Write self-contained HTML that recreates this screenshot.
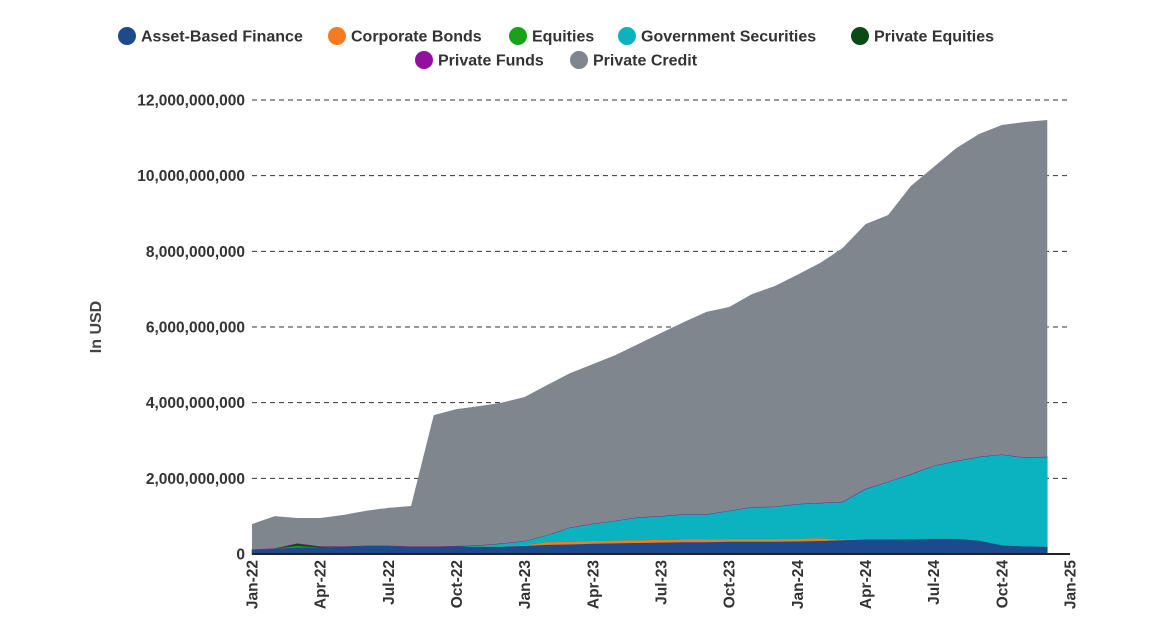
<!DOCTYPE html>
<html><head><meta charset="utf-8"><style>
body{margin:0;background:#fff;}
svg{display:block;font-family:"Liberation Sans",sans-serif;}
</style></head><body>
<svg id="chart" width="1162" height="637" viewBox="0 0 1162 637" xmlns="http://www.w3.org/2000/svg">
<g id="legend"></g>
<g id="grid"></g>
<g id="areas"></g>
<g id="axes"></g>
<text x="0" y="0" transform="translate(101,327) rotate(-90)" text-anchor="middle" font-size="16" font-weight="bold" fill="#444">In USD</text>
</svg>
<script>
const months = ["Jan-22","Feb-22","Mar-22","Apr-22","May-22","Jun-22","Jul-22","Aug-22","Sep-22","Oct-22","Nov-22","Dec-22","Jan-23","Feb-23","Mar-23","Apr-23","May-23","Jun-23","Jul-23","Aug-23","Sep-23","Oct-23","Nov-23","Dec-23","Jan-24","Feb-24","Mar-24","Apr-24","May-24","Jun-24","Jul-24","Aug-24","Sep-24","Oct-24","Nov-24","Dec-24"];
// values in billions USD
const assetBased = [0.12,0.15,0.18,0.18,0.2,0.22,0.22,0.2,0.2,0.21,0.2,0.2,0.22,0.25,0.26,0.28,0.29,0.3,0.31,0.32,0.32,0.33,0.33,0.33,0.34,0.35,0.37,0.39,0.39,0.4,0.41,0.41,0.36,0.24,0.21,0.2];
const corporateBonds = [0,0,0,0,0,0,0,0,0,0,0,0,0.02,0.07,0.07,0.07,0.07,0.07,0.07,0.07,0.07,0.07,0.07,0.07,0.07,0.07,0.02,0,0,0,0,0,0,0,0,0];
const equities = [0,0,0.04,0,0,0,0,0,0,0,0,0,0,0,0,0,0,0,0,0,0,0,0,0,0,0,0,0,0,0,0,0,0,0,0,0];
const govSecurities = [0,0,0,0,0,0,0,0,0,0,0.03,0.08,0.1,0.18,0.37,0.45,0.52,0.6,0.62,0.66,0.66,0.74,0.84,0.85,0.91,0.93,0.99,1.33,1.52,1.71,1.92,2.05,2.21,2.39,2.34,2.37];
const privateEquities = [0,0,0.06,0.02,0,0,0,0,0,0,0,0,0,0,0,0,0,0,0,0,0,0,0,0,0,0,0,0,0,0,0,0,0,0,0,0];
const privateFunds = [0,0,0,0,0,0,0,0,0,0,0,0,0,0,0,0,0,0,0,0,0,0,0,0,0,0,0,0,0,0,0,0,0,0,0,0];
const privateCredit = [0.67,0.85,0.67,0.75,0.83,0.92,1.0,1.07,3.47,3.62,3.68,3.72,3.81,3.97,4.08,4.22,4.38,4.58,4.84,5.08,5.35,5.39,5.63,5.83,6.06,6.34,6.71,7.0,7.05,7.62,7.9,8.27,8.53,8.71,8.87,8.9];
const yTicks = [0,2,4,6,8,10,12];
const yTickLabels = ["0","2,000,000,000","4,000,000,000","6,000,000,000","8,000,000,000","10,000,000,000","12,000,000,000"];
const xTickLabels = ["Jan-22","Apr-22","Jul-22","Oct-22","Jan-23","Apr-23","Jul-23","Oct-23","Jan-24","Apr-24","Jul-24","Oct-24","Jan-25"];
const seriesNames = ["Asset-Based Finance","Corporate Bonds","Equities","Government Securities","Private Equities","Private Funds","Private Credit"];

const NS="http://www.w3.org/2000/svg";
const X0=252,X1=1070,Y0=554,Y1=100;
const monthW=(X1-X0)/36;
const xScale=i=>X0+i*monthW;
const yScale=v=>Y0-(v/12)*(Y0-Y1);
function mk(tag,attrs,parent){const e=document.createElementNS(NS,tag);for(const k in attrs)e.setAttribute(k,attrs[k]);parent.appendChild(e);return e;}

const grid=document.getElementById('grid'),axes=document.getElementById('axes'),areas=document.getElementById('areas'),legend=document.getElementById('legend');
yTicks.forEach((t,i)=>{
  const y=yScale(t);
  if(t>0){const l=mk('line',{x1:X0,x2:X1,y1:y,y2:y,stroke:'#333','stroke-width':1,'stroke-dasharray':'5,4'},grid);
  
  }
  const tx=mk('text',{x:245,y:y+5.5,'text-anchor':'end','font-size':15.5,'font-weight':'bold',fill:'#333'},axes);
  tx.textContent=yTickLabels[i];
  
  
});
xTickLabels.forEach((lab,i)=>{
  const x=xScale(i*3);
  const tx=mk('text',{transform:`translate(${x+5.5},${Y0+6}) rotate(-90)`,'text-anchor':'end','font-size':15.5,'font-weight':'bold',fill:'#333'},axes);
  tx.textContent=lab;
  
  
});

const series=[assetBased,corporateBonds,equities,govSecurities,privateEquities,privateFunds,privateCredit];
const colors=["#1d4a8c","#f47b20","#17a21a","#0bb3c0","#0b4a14","#930f9e","#7f868d"];
const keys=["asset-based-finance","corporate-bonds","equities","government-securities","private-equities","private-funds","private-credit"];
let base=months.map(()=>0);
series.forEach((s,si)=>{
  const top=base.map((b,i)=>b+s[i]);
  let d='';
  top.forEach((v,i)=>{d+=(i?'L':'M')+xScale(i).toFixed(2)+','+yScale(v).toFixed(2);});
  for(let i=base.length-1;i>=0;i--)d+='L'+xScale(i).toFixed(2)+','+yScale(base[i]).toFixed(2);
  d+='Z';
  const p=mk('path',{d:d,fill:colors[si],stroke:si===6?'none':colors[si],'stroke-width':0.6},areas);
  
  
  base=top;
});
const ax=mk('line',{x1:X0,x2:X1,y1:Y0,y2:Y0,stroke:'#222','stroke-width':2},axes);



const legPos=[[127,36],[337,36],[518,36],[627,36],[860,36],[424,60],[579,60]];
seriesNames.forEach((n,i)=>{
  const g=mk('g',{},legend);
  
  
  mk('circle',{cx:legPos[i][0],cy:legPos[i][1],r:9,fill:colors[i]},g);
  const t=mk('text',{x:legPos[i][0]+14,y:legPos[i][1]+5.5,'font-size':16,'font-weight':'bold',fill:'#333'},g);
  t.textContent=n;
});
</script>
</body></html>
